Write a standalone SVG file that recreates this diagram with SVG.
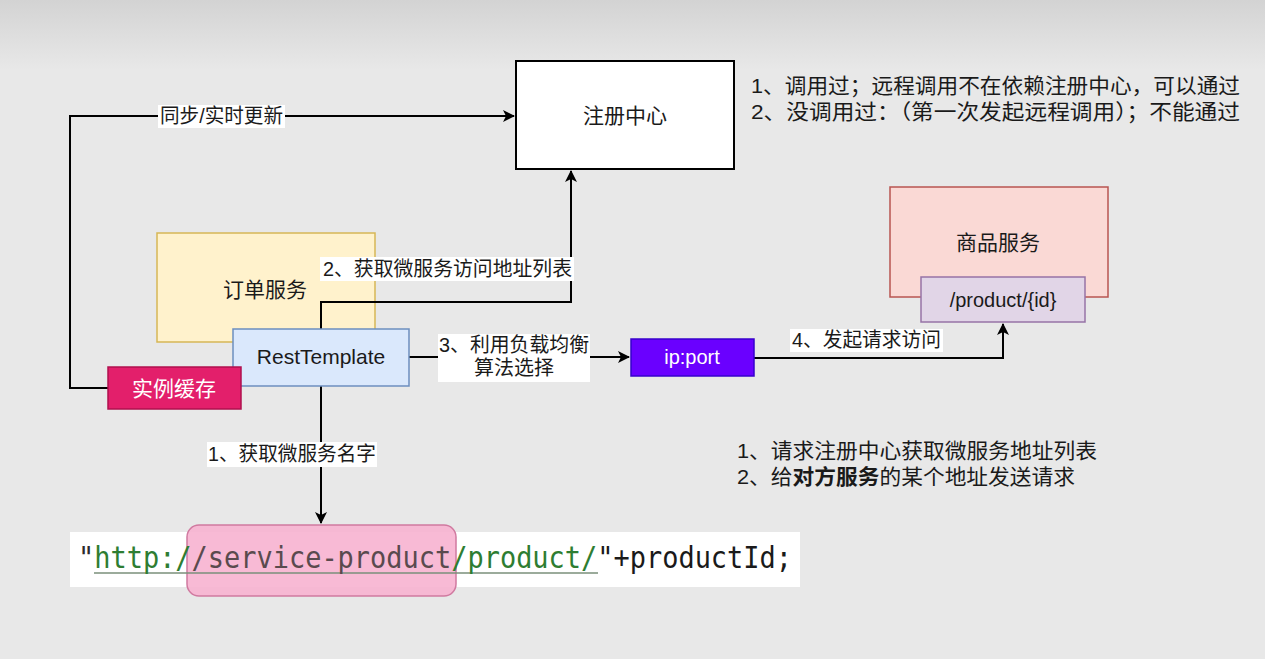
<svg xmlns="http://www.w3.org/2000/svg" width="1265" height="659" viewBox="0 0 1265 659">
<defs>
<linearGradient id="topg" x1="0" y1="0" x2="0" y2="1">
<stop offset="0" stop-color="#d3d3d3"/>
<stop offset="1" stop-color="#e8e8e8"/>
</linearGradient>
<marker id="arr" markerWidth="12" markerHeight="12" viewBox="0 0 12 12" refX="11" refY="6" orient="auto" markerUnits="userSpaceOnUse">
<path d="M0,0 L12,6 L0,12 L3,6 Z" fill="#000"/>
</marker>
<style>
text{font-family:"Liberation Sans","Noto Sans CJK SC",sans-serif;fill:#1a1a1a}
.lbl{font-size:20px}
.box{font-size:21px}
.note{font-size:21px}
.conn{fill:none;stroke:#000;stroke-width:2;marker-end:url(#arr)}
.lbg{fill:#fff}
.code{font-family:"DejaVu Sans Mono","Liberation Mono",monospace;font-size:30px}
</style>
</defs>
<rect x="0" y="0" width="1265" height="659" fill="#e8e8e8"/>
<rect x="0" y="0" width="1265" height="70" fill="url(#topg)"/>

<g id="registry">
<rect x="516" y="61" width="218" height="108" fill="#fff" stroke="#000" stroke-width="2"/>
<text class="box" x="625" y="123" text-anchor="middle">注册中心</text>
</g>

<g id="order-service">
<rect x="157" y="233" width="218" height="109" fill="#fff2cc" stroke="#d6b656" stroke-width="1.5"/>
<text class="box" x="265" y="297" text-anchor="middle">订单服务</text>
</g>

<g id="product-service">
<rect x="890" y="187" width="218" height="110" fill="#fad9d5" stroke="#b85450" stroke-width="1.5"/>
<text class="box" x="998" y="250" text-anchor="middle">商品服务</text>
</g>

<g id="product-endpoint">
<rect x="921" y="277" width="164" height="45" fill="#e1d5e7" stroke="#9673a6" stroke-width="1.5"/>
<text class="lbl" x="1003" y="307" text-anchor="middle">/product/{id}</text>
</g>

<g id="connectors">
<path class="conn" d="M108,388 H70 V116 H514"/>
<path class="conn" d="M321,329 V302 H571 V171"/>
<path class="conn" d="M409,357 H629"/>
<path class="conn" d="M754,358 H1003 V324"/>
<path class="conn" d="M321,386 V523"/>
</g>

<g id="connector-labels">
<rect class="lbg" x="158" y="105" width="127" height="23"/>
<text class="lbl" x="160" y="123" textLength="123" lengthAdjust="spacingAndGlyphs">同步/实时更新</text>
<rect class="lbg" x="320" y="257" width="254" height="24"/>
<text class="lbl" x="323" y="276" textLength="249" lengthAdjust="spacingAndGlyphs">2、获取微服务访问地址列表</text>
<rect class="lbg" x="438" y="334" width="152" height="48"/>
<text class="lbl" x="439" y="352" textLength="150" lengthAdjust="spacingAndGlyphs">3、利用负载均衡</text>
<text class="lbl" x="514" y="375" text-anchor="middle">算法选择</text>
<rect class="lbg" x="790" y="329" width="153" height="23"/>
<text class="lbl" x="792" y="347" textLength="149" lengthAdjust="spacingAndGlyphs">4、发起请求访问</text>
<rect class="lbg" x="207" y="442" width="170" height="25"/>
<text class="lbl" x="208" y="461" textLength="168" lengthAdjust="spacingAndGlyphs">1、获取微服务名字</text>
</g>

<g id="rest-template">
<rect x="233" y="329" width="176" height="57" fill="#dae8fc" stroke="#6c8ebf" stroke-width="1.5"/>
<text class="box" x="321" y="364" text-anchor="middle">RestTemplate</text>
</g>

<g id="instance-cache">
<rect x="108" y="367" width="133" height="42" fill="#e31f6b" stroke="#b0104e" stroke-width="1.5"/>
<text class="box" x="174" y="396" text-anchor="middle" style="fill:#fff">实例缓存</text>
</g>

<g id="ip-port">
<rect x="631" y="339" width="123" height="37" fill="#6a00ff" stroke="#3700cc" stroke-width="1.5"/>
<text class="lbl" x="692" y="364" text-anchor="middle" style="fill:#fff">ip:port</text>
</g>

<g id="notes">
<text class="note" x="751" y="93" textLength="489" lengthAdjust="spacingAndGlyphs">1、调用过；远程调用不在依赖注册中心，可以通过</text>
<text class="note" x="751" y="119" textLength="489" lengthAdjust="spacingAndGlyphs">2、没调用过：（第一次发起远程调用）；不能通过</text>
<text class="note" x="737" y="458" textLength="360" lengthAdjust="spacingAndGlyphs">1、请求注册中心获取微服务地址列表</text>
<text class="note" x="737" y="484" textLength="338" lengthAdjust="spacingAndGlyphs">2、给<tspan font-weight="bold">对方服务</tspan>的某个地址发送请求</text>
</g>

<g id="code">
<rect x="70" y="532" width="730" height="55" fill="#fff"/>
<rect x="187" y="525" width="269" height="71" rx="12" fill="#f7b3d0" fill-opacity="0.9" stroke="#d07aa0" stroke-width="1.5"/>
<line x1="94" y1="573" x2="598" y2="573" stroke="#7a8f7a" stroke-width="1.5"/>
<text class="code" x="78" y="568" textLength="714" lengthAdjust="spacingAndGlyphs"><tspan style="fill:#2b2b2b">"</tspan><tspan style="fill:#2e7d32">http:/</tspan><tspan style="fill:#5a4a4e">/service-product</tspan><tspan style="fill:#2e7d32">/product/</tspan><tspan style="fill:#1a1a1a">"+productId;</tspan></text>
</g>
</svg>
